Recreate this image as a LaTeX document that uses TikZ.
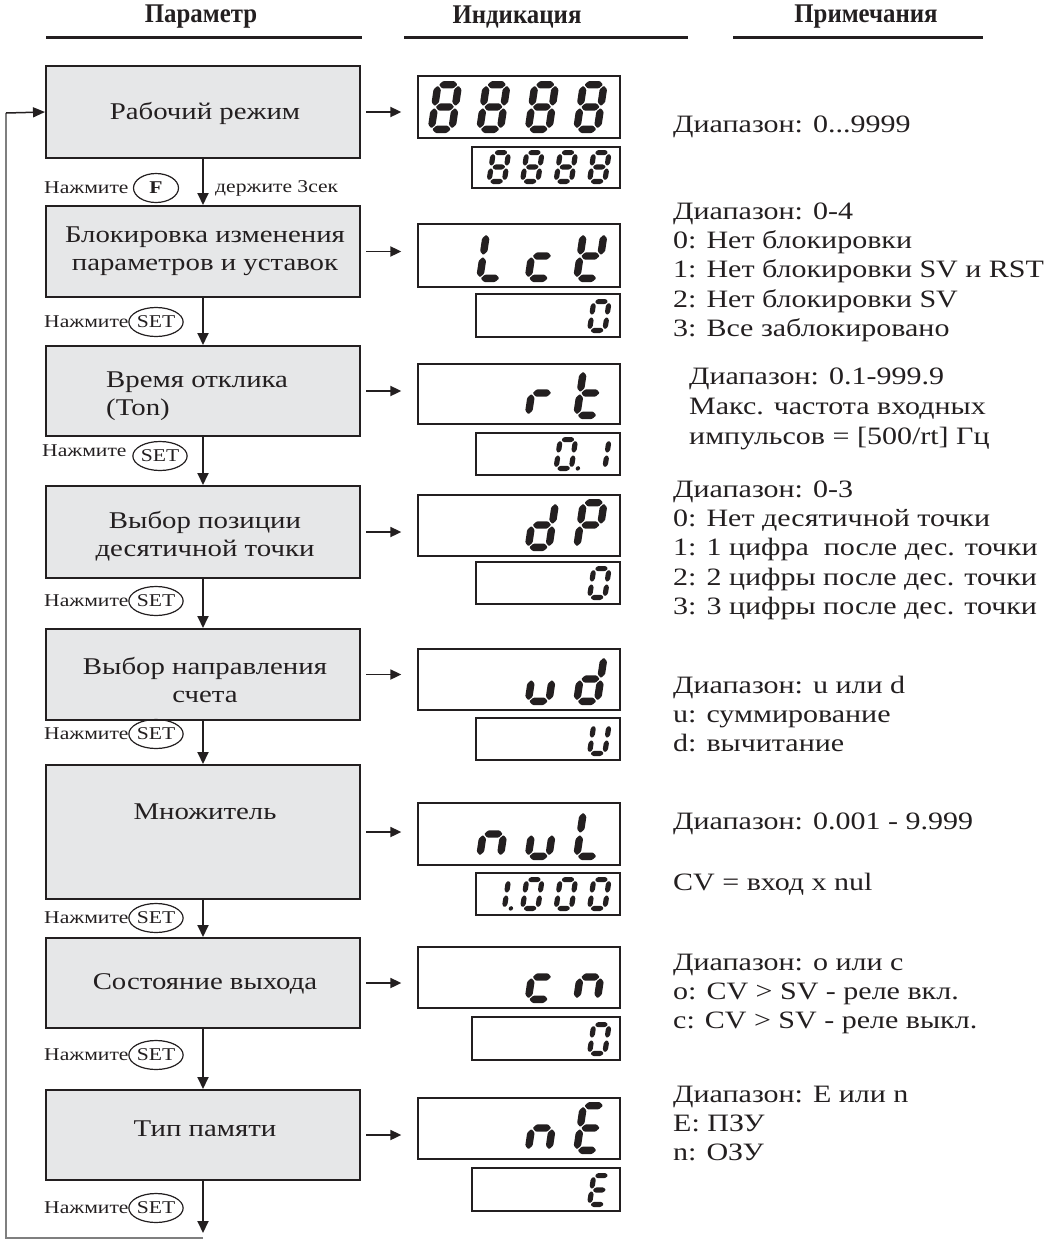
\documentclass[tikz,border=0pt]{standalone}
\usepackage{fontspec}
\setmainfont[FakeStretch=1.2]{Liberation Serif}
\newfontfamily\headfont[FakeStretch=0.92]{Liberation Serif}
\usetikzlibrary{arrows.meta,shapes.geometric}
\definecolor{ink}{HTML}{231F20}
\definecolor{boxgray}{HTML}{E6E7E8}
\definecolor{loopgray}{HTML}{7F7F7F}
\newcommand\nt{\rule{0pt}{20pt}}
% seven-segment helpers
\newcommand\hsegp[3]{({#1},{#3}) -- ({#1+\sh},{#3+\sh}) -- ({#2-\sh},{#3+\sh}) -- ({#2},{#3}) -- ({#2-\sh},{#3-\sh}) -- ({#1+\sh},{#3-\sh}) -- cycle}
\newcommand\vsegp[3]{({#3},{#1}) -- ({#3+\sh},{#1+\sh}) -- ({#3+\sh},{#2-\sh}) -- ({#3},{#2}) -- ({#3-\sh},{#2-\sh}) -- ({#3-\sh},{#1+\sh}) -- cycle}
\def\sga{\hsegp{\sxl+\sgap}{\sxr-\sgap}{\syt}}
\def\sgb{\vsegp{\sym+\sgap}{\syt-\sgap}{\sxr}}
\def\sgc{\vsegp{\syb+\sgap}{\sym-\sgap}{\sxr}}
\def\sgd{\hsegp{\sxl+\sgap}{\sxr-\sgap}{\syb}}
\def\sge{\vsegp{\syb+\sgap}{\sym-\sgap}{\sxl}}
\def\sgf{\vsegp{\sym+\sgap}{\syt-\sgap}{\sxl}}
\def\sgg{\hsegp{\sxl+\sgap}{\sxr-\sgap}{\sym}}
\def\sgp{({\sW+4},{\syb}) circle[radius={\sh*0.85}]}
\newcommand\segdig[6]{%
  \pgfmathsetmacro\sX{#1}\pgfmathsetmacro\sY{#2}%
  \begin{scope}[shift={(\sX,\sY)},x=1pt,y=1pt,xslant=0.15]
    \pgfmathsetmacro\sW{#3}\pgfmathsetmacro\sH{#4}\pgfmathsetmacro\sh{#5/2}%
    \pgfmathsetmacro\sgap{1}%
    \pgfmathsetmacro\sxl{\sh}\pgfmathsetmacro\sxr{\sW-\sh}%
    \pgfmathsetmacro\syb{\sh}\pgfmathsetmacro\sym{\sH/2}\pgfmathsetmacro\syt{\sH-\sh}%
    \foreach \s in {#6}{%
      \expandafter\let\expandafter\segpath\csname sg\s\endcsname
      \fill[ink,rounded corners=1pt] \segpath;}
  \end{scope}}
% big digit at position i (1..4), bottom y of display
\newcommand\bigdig[3]{\segdig{427+48.5*(#1-1)}{#2-5}{28}{52}{7.4}{#3}}
\newcommand\smalldig[3]{\segdig{486+33.5*(#1-1)}{#2-4}{20.5}{34}{5.2}{#3}}
\begin{document}
\begin{tikzpicture}[x=1pt,y=-1pt,
  pbox/.style={draw=ink,line width=2pt,fill=boxgray,minimum width=314pt,inner sep=0},
  disp/.style={draw=ink,line width=1.3pt,inner sep=0},
  boxtxt/.style={font=\fontsize{24}{28}\selectfont,align=center,inner sep=0,text=ink},
  notetxt/.style={font=\fontsize{25}{29.3}\selectfont,align=left,anchor=north west,inner sep=0,text=ink},
  presstxt/.style={font=\fontsize{18}{20}\selectfont,anchor=west,inner sep=0,text=ink},
  btn/.style={ellipse,draw=ink,line width=1.2pt,minimum width=45pt,minimum height=29pt,inner sep=0,font=\fontsize{18}{20}\selectfont,text=ink},
  head/.style={font=\headfont\bfseries\fontsize{27}{30}\selectfont,inner sep=0,text=ink},
  varr/.style={draw=ink,line width=1.8pt,-{Triangle[length=12pt,width=11pt]}},
  harr/.style={draw=ink,line width=1.8pt,-{Triangle[length=11pt,width=10pt]},shorten <=5pt,shorten >=16pt},
  looparr/.style={draw=loopgray,line width=1.5pt}]
\useasboundingbox (0,0) rectangle (1060,1240);
% headings
\node[head] (h1) at (201,17) {Параметр};
\node[head] (h2) at (517,17) {Индикация};
\node[head] (h3) at (866,17) {Примечания};
\draw[ink,line width=3pt] (46,37) -- (362,37);
\draw[ink,line width=3pt] (404,37) -- (688,37);
\draw[ink,line width=3pt] (733,37) -- (983,37);
% parameter boxes
\node[pbox,minimum height=92pt] (b1) at (203,112) {};
\node[pbox,minimum height=91pt] (b2) at (203,251.5) {};
\node[pbox,minimum height=90pt] (b3) at (203,391) {};
\node[pbox,minimum height=92pt] (b4) at (203,532) {};
\node[pbox,minimum height=91pt] (b5) at (203,674.5) {};
\node[pbox,minimum height=134pt] (b6) at (203,832) {};
\node[pbox,minimum height=90pt] (b7) at (203,983) {};
\node[pbox,minimum height=90pt] (b8) at (203,1135) {};
\node[boxtxt] (t1) at (205,113) {Рабочий режим};
\node[boxtxt] (t2) at (205,251) {Блокировка изменения\\параметров и уставок};
\node[boxtxt,align=left,anchor=west] (t3) at (106,396) {Время отклика\\(Ton)};
\node[boxtxt] (t4) at (205,536) {Выбор позиции\\десятичной точки};
\node[boxtxt] (t5) at (205,680) {Выбор направления\\счета};
\node[boxtxt] (t6) at (205,812) {Множитель};
\node[boxtxt] (t7) at (205,984) {Состояние выхода};
\node[boxtxt] (t8) at (205,1129) {Тип памяти};
% down arrows
\draw[varr] (b1.south) -- (b2.north);
\draw[varr] (b2.south) -- (b3.north);
\draw[varr] (b3.south) -- (b4.north);
\draw[varr] (b4.south) -- (b5.north);
\draw[varr] (b5.south) -- (b6.north);
\draw[varr] (b6.south) -- (b7.north);
\draw[varr] (b7.south) -- (b8.north);
\coordinate (bend) at (b8.south |- 0,1233);
\coordinate (lb) at (6,1238);
\coordinate (lt) at (6,113);
\draw[varr] (b8.south) -- (bend);
\draw[looparr] (b8.south |- lb) -- (lb) -- (lt);
\draw[looparr,draw=ink,-{Triangle[length=12pt,width=10pt]}] (lt) -- (b1.west);
% press labels
\node[presstxt] (p1) at (44,188) {Нажмите};
\node[btn,font=\bfseries\fontsize{18}{20}\selectfont] (k1) at (156,188) {F};
\node[presstxt] (p1b) at (215,188) {держите 3сек};
\node[presstxt] (p2) at (44,322) {Нажмите};
\node[btn] (k2) at (156,322) {SET};
\node[presstxt] (p3) at (42,451) {Нажмите};
\node[btn] (k3) at (160,456) {SET};
\node[presstxt] (p4) at (44,601) {Нажмите};
\node[btn] (k4) at (156,601) {SET};
\node[presstxt] (p5) at (44,734) {Нажмите};
\node[btn] (k5) at (156,734) {SET};
\node[presstxt] (p6) at (44,918) {Нажмите};
\node[btn] (k6) at (156,918) {SET};
\node[presstxt] (p7) at (44,1055) {Нажмите};
\node[btn] (k7) at (156,1055) {SET};
\node[presstxt] (p8) at (44,1208) {Нажмите};
\node[btn] (k8) at (156,1208) {SET};
% displays
\node[disp,minimum width=202pt,minimum height=62pt] (d1) at (519,107) {};
\node[disp,minimum width=148pt,minimum height=41pt] (s1) at (546,167.5) {};
\node[disp,minimum width=202pt,minimum height=63pt] (d2) at (519,255.5) {};
\node[disp,minimum width=144pt,minimum height=43pt] (s2) at (548,315.5) {};
\node[disp,minimum width=202pt,minimum height=60pt] (d3) at (519,394) {};
\node[disp,minimum width=144pt,minimum height=42pt] (s3) at (548,454) {};
\node[disp,minimum width=202pt,minimum height=61pt] (d4) at (519,525.5) {};
\node[disp,minimum width=144pt,minimum height=42pt] (s4) at (548,583) {};
\node[disp,minimum width=202pt,minimum height=61pt] (d5) at (519,679.5) {};
\node[disp,minimum width=144pt,minimum height=42pt] (s5) at (548,739) {};
\node[disp,minimum width=202pt,minimum height=62pt] (d6) at (519,834) {};
\node[disp,minimum width=144pt,minimum height=42pt] (s6) at (548,894) {};
\node[disp,minimum width=202pt,minimum height=61pt] (d7) at (519,977.5) {};
\node[disp,minimum width=148pt,minimum height=43pt] (s7) at (546,1038.5) {};
\node[disp,minimum width=202pt,minimum height=61pt] (d8) at (519,1128.5) {};
\node[disp,minimum width=148pt,minimum height=43pt] (s8) at (546,1189.5) {};
\draw[harr] (b1.east) -- (b1.east -| d1.west);
\draw[harr] (b2.east) -- (b2.east -| d2.west);
\draw[harr] (b3.east) -- (b3.east -| d3.west);
\draw[harr] (b4.east) -- (b4.east -| d4.west);
\draw[harr] (b5.east) -- (b5.east -| d5.west);
\draw[harr] (b6.east) -- (b6.east -| d6.west);
\draw[harr] (b7.east) -- (b7.east -| d7.west);
\draw[harr] (b8.east) -- (b8.east -| d8.west);
% digits
\foreach \i in {1,2,3,4}{\bigdig{\i}{138}{a,b,c,d,e,f,g}\smalldig{\i}{188}{a,b,c,d,e,f,g}}
\bigdig{2}{287}{d,e,f}\bigdig{3}{287}{d,e,g}\bigdig{4}{287}{b,d,e,f,g}
\smalldig{4}{337}{a,b,c,d,e,f}
\bigdig{3}{424}{e,g}\bigdig{4}{424}{d,e,f,g}
\smalldig{3}{475}{a,b,c,d,e,f,p}\smalldig{4}{475}{b,c}
\bigdig{3}{556}{b,c,d,e,g}\bigdig{4}{556}{a,b,e,f,g}
\smalldig{4}{604}{a,b,c,d,e,f}
\bigdig{3}{710}{c,d,e}\bigdig{4}{710}{b,c,d,e,g}
\smalldig{4}{760}{b,c,d,e,f}
\bigdig{2}{865}{c,e,g}\bigdig{3}{865}{c,d,e}\bigdig{4}{865}{d,e,f}
\smalldig{1}{915}{b,c,p}\smalldig{2}{915}{a,b,c,d,e,f}\smalldig{3}{915}{a,b,c,d,e,f}\smalldig{4}{915}{a,b,c,d,e,f}
\bigdig{3}{1008}{d,e,g}\bigdig{4}{1008}{c,e,g}
\smalldig{4}{1060}{a,b,c,d,e,f}
\bigdig{3}{1159}{c,e,g}\bigdig{4}{1159}{a,d,e,f,g}
\smalldig{4}{1211}{a,d,e,f,g}
% notes (top = first baseline - 20)
\node[notetxt] (n1) at (673,112) {\nt Диапазон: 0...9999};
\node[notetxt] (n2) at (673,199) {\nt Диапазон: 0-4\\0: Нет блокировки\\1: Нет блокировки SV и RST\\2: Нет блокировки SV\\3: Все заблокировано};
\node[notetxt,font=\fontsize{25}{30}\selectfont] (n3) at (689,364) {\nt Диапазон: 0.1-999.9\\Макс. частота входных\\импульсов = [500/rt] Гц};
\node[notetxt] (n4) at (673,477) {\nt Диапазон: 0-3\\0: Нет десятичной точки\\1: 1 цифра \ после дес. точки\\2: 2 цифры после дес. точки\\3: 3 цифры после дес. точки};
\node[notetxt] (n5) at (673,673) {\nt Диапазон: u или d\\u: суммирование\\d: вычитание};
\node[notetxt] (n6) at (673,809) {\nt Диапазон: 0.001 - 9.999};
\node[notetxt] (n6b) at (673,870) {\nt CV = вход x nul};
\node[notetxt] (n7) at (673,950) {\nt Диапазон: o или c\\o: CV > SV - реле вкл.\\c: CV > SV - реле выкл.};
\node[notetxt] (n8) at (673,1082) {\nt Диапазон: E или n\\E: ПЗУ\\n: ОЗУ};
\end{tikzpicture}
\end{document}
